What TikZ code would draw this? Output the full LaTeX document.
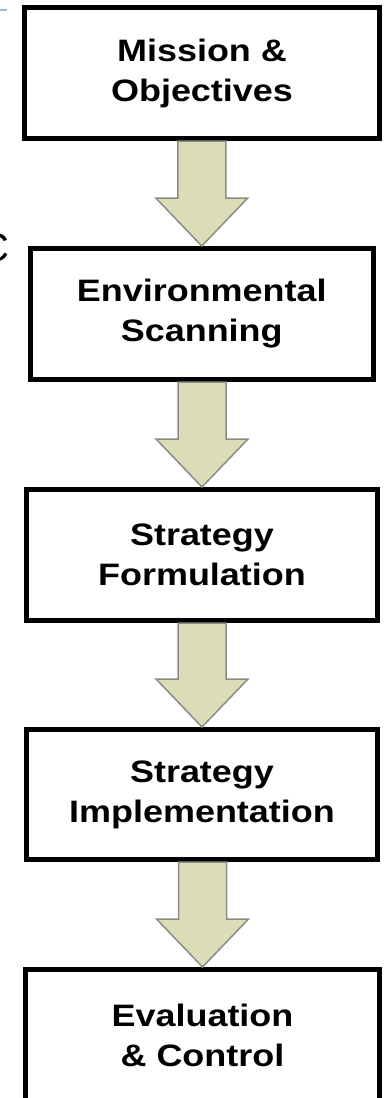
\documentclass[tikz,border=0pt]{standalone}
\usepackage{fontspec}
\setmainfont{Liberation Sans}
\newfontfamily\boxfont[FakeStretch=1.16]{Liberation Sans}
\usetikzlibrary{calc}
\definecolor{arrowfill}{RGB}{220,220,185}
\definecolor{arrowline}{RGB}{140,140,128}
\definecolor{tickblue}{RGB}{160,185,205}
\tikzset{
  stagebox/.style={draw=black, line width=5pt, fill=white, inner sep=0pt,
    align=center, font=\boxfont\bfseries\fontsize{31}{40}\selectfont},
  blockarrow/.style={fill=arrowfill, draw=arrowline, line width=1.5pt, line join=miter}
}
\begin{document}
\begin{tikzpicture}[x=1pt,y=-1pt]
\useasboundingbox (0,0) rectangle (385,1098);
\clip (0,0) rectangle (385,1098);
\fill[white] (0,0) rectangle (385,1098);
% stray marks at the left edge
\coordinate (tickA) at (0,10);
\coordinate (tickB) at (7,10);
\draw[tickblue, line width=2pt] (tickA) -- (tickB);
\node[anchor=base east, inner sep=0pt, font=\fontsize{40}{48}\selectfont] (stray) at (10,261) {C};
% boxes
\node[stagebox, minimum width=355pt, minimum height=131pt] (m) at (202,73) {Mission \&\\Objectives};
\node[stagebox, minimum width=342.5pt, minimum height=131pt] (e) at (201.75,314) {Environmental\\Scanning};
\node[stagebox, minimum width=351pt, minimum height=131pt] (f) at (202,555) {Strategy\\Formulation};
\node[stagebox, minimum width=351pt, minimum height=130pt] (i) at (202,794.5) {Strategy\\Implementation};
\node[stagebox, minimum width=354pt, minimum height=131pt] (c) at (202.5,1035) {Evaluation\\\& Control};
% block arrows
\foreach \a/\b in {m/e, e/f, f/i, i/c}{
  \draw[blockarrow]
    ($(\a.south -| \b.north)+(-24,0)$) -- ($(\a.south -| \b.north)+(24,0)$)
    -- ($(\b.north)+(24,-48)$) -- ($(\b.north)+(46,-48)$)
    -- (\b.north)
    -- ($(\b.north)+(-46,-48)$) -- ($(\b.north)+(-24,-48)$) -- cycle;
}
\end{tikzpicture}
\end{document}
